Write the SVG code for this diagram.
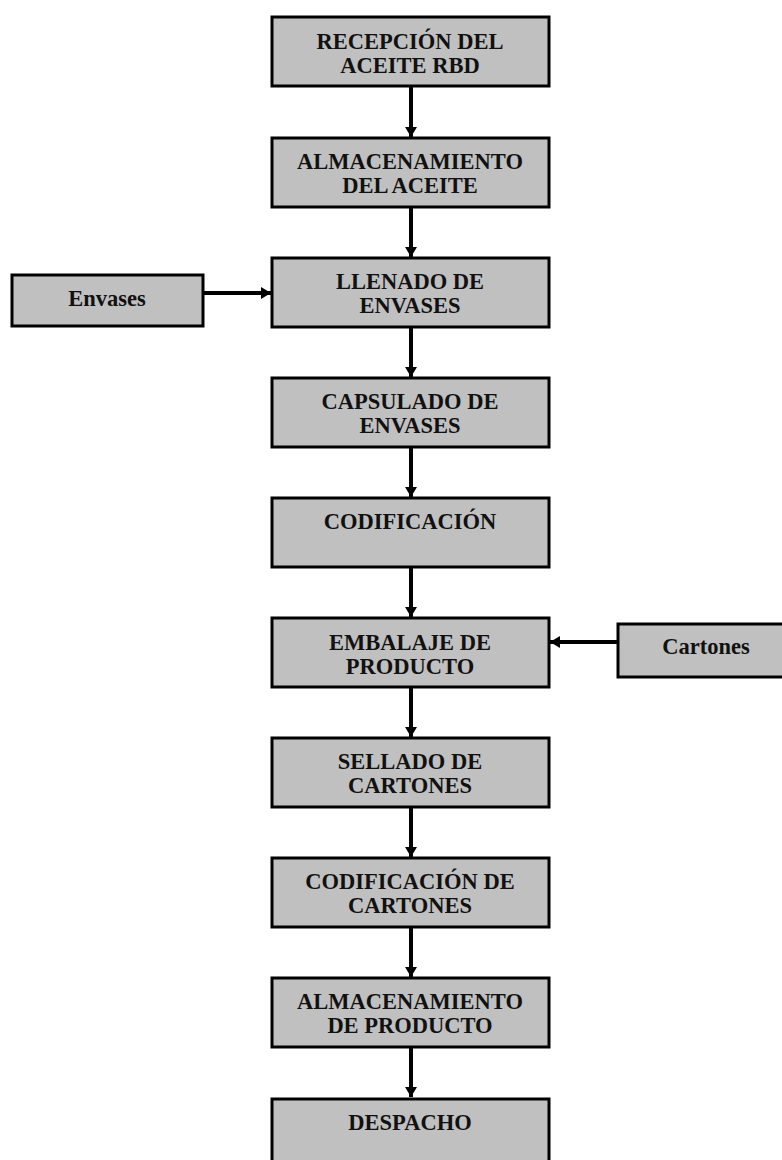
<svg xmlns="http://www.w3.org/2000/svg" width="782" height="1160" viewBox="0 0 782 1160">
<style>
.box{fill:#c0c0c0;stroke:#000;stroke-width:3}
.t{font-family:"Liberation Serif","Times New Roman",serif;font-weight:bold;font-size:22.5px;fill:#111;text-anchor:middle}
.c{stroke:#000;stroke-width:4;fill:none}
</style>
<defs>
<marker id="ah" markerUnits="userSpaceOnUse" markerWidth="14" markerHeight="12" refX="10" refY="6" orient="auto">
<path d="M0,0 L10,6 L0,12 Z" fill="#000"/>
</marker>
</defs>
<g id="connectors">
<line class="c" x1="411" y1="86" x2="411" y2="137" marker-end="url(#ah)"/>
<line class="c" x1="411" y1="207" x2="411" y2="257" marker-end="url(#ah)"/>
<line class="c" x1="411" y1="327" x2="411" y2="377" marker-end="url(#ah)"/>
<line class="c" x1="411" y1="447" x2="411" y2="497" marker-end="url(#ah)"/>
<line class="c" x1="411" y1="567" x2="411" y2="617" marker-end="url(#ah)"/>
<line class="c" x1="411" y1="687" x2="411" y2="737" marker-end="url(#ah)"/>
<line class="c" x1="411" y1="807" x2="411" y2="857" marker-end="url(#ah)"/>
<line class="c" x1="411" y1="927" x2="411" y2="977" marker-end="url(#ah)"/>
<line class="c" x1="411" y1="1047" x2="411" y2="1097" marker-end="url(#ah)"/>
<line class="c" x1="203" y1="293" x2="271" y2="293" marker-end="url(#ah)"/>
<line class="c" x1="618" y1="642" x2="550" y2="642" marker-end="url(#ah)"/>
</g>
<g id="n1"><rect class="box" x="272" y="17" width="277" height="69"/><text class="t" x="410" y="49">RECEPCIÓN DEL</text><text class="t" x="410" y="73">ACEITE RBD</text></g>
<g id="n2"><rect class="box" x="272" y="138" width="277" height="69"/><text class="t" x="410" y="169">ALMACENAMIENTO</text><text class="t" x="410" y="193">DEL ACEITE</text></g>
<g id="n3"><rect class="box" x="272" y="258" width="277" height="69"/><text class="t" x="410" y="289">LLENADO DE</text><text class="t" x="410" y="313">ENVASES</text></g>
<g id="n4"><rect class="box" x="272" y="378" width="277" height="69"/><text class="t" x="410" y="409">CAPSULADO DE</text><text class="t" x="410" y="433">ENVASES</text></g>
<g id="n5"><rect class="box" x="272" y="498" width="277" height="69"/><text class="t" x="410" y="529">CODIFICACIÓN</text></g>
<g id="n6"><rect class="box" x="272" y="618" width="277" height="69"/><text class="t" x="410" y="650">EMBALAJE DE</text><text class="t" x="410" y="674">PRODUCTO</text></g>
<g id="n7"><rect class="box" x="272" y="738" width="277" height="69"/><text class="t" x="410" y="769">SELLADO DE</text><text class="t" x="410" y="793">CARTONES</text></g>
<g id="n8"><rect class="box" x="272" y="858" width="277" height="69"/><text class="t" x="410" y="889">CODIFICACIÓN DE</text><text class="t" x="410" y="913">CARTONES</text></g>
<g id="n9"><rect class="box" x="272" y="978" width="277" height="69"/><text class="t" x="410" y="1009">ALMACENAMIENTO</text><text class="t" x="410" y="1033">DE PRODUCTO</text></g>
<g id="n10"><rect class="box" x="272" y="1099" width="277" height="80"/><text class="t" x="410" y="1130">DESPACHO</text></g>
<g id="envases"><rect class="box" x="12" y="275" width="191" height="51"/><text class="t" x="107" y="306">Envases</text></g>
<g id="cartones"><rect class="box" x="618" y="624" width="190" height="53"/><text class="t" x="706" y="654">Cartones</text></g>
</svg>
